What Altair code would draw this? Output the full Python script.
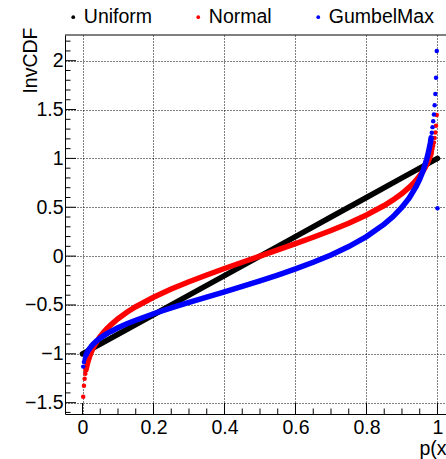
import altair as alt
import pandas as pd

FONT = "Liberation Sans"

series_names = ["Uniform", "Normal", "GumbelMax"]
series_colors = ["#000000", "#ff0000", "#0000ff"]

uniform_p = [0.0, 0.1, 0.2, 0.3, 0.4, 0.5, 0.6, 0.7, 0.8, 0.9, 1.0]
uniform_v = [-1.0, -0.8, -0.6, -0.4, -0.2, 0.0, 0.2, 0.4, 0.6, 0.8, 1.0]

normal_p = [0.002, 0.004, 0.006, 0.008, 0.010, 0.012, 0.014, 0.016, 0.018, 0.020,
            0.025, 0.030, 0.035, 0.040, 0.050, 0.060, 0.070, 0.080, 0.100, 0.125,
            0.150, 0.200, 0.250, 0.300, 0.350, 0.400, 0.450, 0.500, 0.550, 0.600,
            0.650, 0.700, 0.750, 0.800, 0.850, 0.875, 0.900, 0.920, 0.930, 0.940,
            0.950, 0.960, 0.965, 0.970, 0.975, 0.980, 0.982, 0.984, 0.986, 0.988,
            0.990, 0.992, 0.994, 0.996, 0.998]
normal_v = [-1.439, -1.326, -1.256, -1.205, -1.163, -1.129, -1.099, -1.072, -1.049, -1.027,
            -0.980, -0.940, -0.906, -0.875, -0.822, -0.777, -0.738, -0.703, -0.641, -0.575,
            -0.518, -0.421, -0.337, -0.262, -0.193, -0.127, -0.063, 0.000, 0.063, 0.127,
            0.193, 0.262, 0.337, 0.421, 0.518, 0.575, 0.641, 0.703, 0.738, 0.777,
            0.822, 0.875, 0.906, 0.940, 0.980, 1.027, 1.049, 1.072, 1.099, 1.129,
            1.163, 1.210, 1.265, 1.335, 1.445]

gumbel_p = [0.002, 0.004, 0.006, 0.008, 0.010, 0.012, 0.014, 0.016, 0.018, 0.020,
            0.025, 0.030, 0.035, 0.040, 0.050, 0.060, 0.070, 0.080, 0.100, 0.125,
            0.150, 0.200, 0.250, 0.300, 0.350, 0.400, 0.450, 0.500, 0.550, 0.600,
            0.650, 0.700, 0.750, 0.800, 0.850, 0.875, 0.900, 0.920, 0.940, 0.950,
            0.960, 0.970, 0.975, 0.980, 0.982, 0.984, 0.986, 0.988, 0.990, 0.992,
            0.994, 0.996, 0.998, 1.000]
gumbel_v = [-1.131, -1.083, -1.053, -1.030, -1.011, -0.995, -0.981, -0.968, -0.956, -0.946,
            -0.922, -0.902, -0.884, -0.868, -0.839, -0.814, -0.791, -0.771, -0.734, -0.693,
            -0.656, -0.590, -0.531, -0.474, -0.419, -0.365, -0.310, -0.253, -0.194, -0.131,
            -0.063, 0.012, 0.098, 0.200, 0.327, 0.405, 0.500, 0.594, 0.713, 0.788,
            0.879, 0.997, 1.071, 1.161, 1.210, 1.262, 1.320, 1.380, 1.450, 1.545,
            1.660, 1.825, 2.100, 0.490]

x_major = [0, 0.2, 0.4, 0.6, 0.8, 1.0]
x_minor = [0.05, 0.1, 0.15, 0.25, 0.3, 0.35, 0.45, 0.5, 0.55, 0.65, 0.7, 0.75,
           0.85, 0.9, 0.95]
y_major = [-1.5, -1, -0.5, 0, 0.5, 1, 1.5, 2]
y_minor = [-1.6, -1.4, -1.3, -1.2, -1.1, -0.9, -0.8, -0.7, -0.6, -0.4, -0.3, -0.2,
           -0.1, 0.1, 0.2, 0.3, 0.4, 0.6, 0.7, 0.8, 0.9, 1.1, 1.2, 1.3, 1.4, 1.6,
           1.7, 1.8, 1.9, 2.1, 2.2]

W, H = 381, 379
MAJ, MIN = 11, 5.5

xscale = alt.Scale(domain=[-0.0493, 1.024], nice=False, zero=False)
yscale = alt.Scale(domain=[-1.616, 2.263], nice=False, zero=False)
cscale = alt.Scale(domain=series_names, range=series_colors)

x_axis = alt.Axis(values=x_major, format="~g", grid=True, gridDash=[1, 2],
                  gridColor="#000000", gridWidth=1, ticks=False, tickSize=0,
                  domain=True, domainColor="#000000", domainWidth=1,
                  labelFont=FONT, labelFontSize=19.5, labelColor="#000000",
                  labelPadding=4, labelOverlap=False, labelFlush=False,
                  title="p(x)", titleFont=FONT, titleFontSize=19.5,
                  titleFontWeight="normal", titleColor="#000000",
                  titleAlign="left", titleBaseline="alphabetic",
                  titleX=354, titleY=40)
y_axis = alt.Axis(values=y_major, format="~g", grid=True, gridDash=[1, 2],
                  gridColor="#000000", gridWidth=1, ticks=False, tickSize=0,
                  domain=True, domainColor="#000000", domainWidth=1,
                  labelFont=FONT, labelFontSize=19.5, labelColor="#000000",
                  labelPadding=2, labelOverlap=False, labelFlush=False,
                  title="InvCDF", titleFont=FONT, titleFontSize=19.5,
                  titleFontWeight="normal", titleColor="#000000",
                  titleAngle=270, titleAlign="right", titleBaseline="alphabetic",
                  titleX=-28.3, titleY=-8)

legend = alt.Legend(title=None, orient="none", legendX=-1.5, legendY=-28,
                    direction="horizontal", columns=3, gridAlign="each",
                    columnPadding=36, symbolType="circle", symbolSize=14,
                    symbolStrokeWidth=0, symbolOpacity=1, labelFont=FONT,
                    labelFontSize=19.5, labelColor="#000000", labelOffset=0.8,
                    padding=0)


def series_df(name, ps, vs):
    return pd.DataFrame({"series": name, "p": ps, "v": vs})


frames = [series_df("Uniform", uniform_p, uniform_v),
          series_df("Normal", normal_p, normal_v),
          series_df("GumbelMax", gumbel_p, gumbel_v)]

X = alt.X("p:Q", scale=xscale, axis=x_axis)
Y = alt.Y("v:Q", scale=yscale, axis=y_axis)

layers = []
for i, (df, color) in enumerate(zip(frames, series_colors)):
    line = alt.Chart(df).mark_line(strokeWidth=5.5, color=color, strokeCap="round").encode(
        x=X, y=Y)
    if i > 0:
        line = line.transform_filter("datum.p >= 0.009 && datum.p <= 0.983")
    pts = alt.Chart(df).mark_circle(size=20, opacity=1).encode(
        x=X, y=Y,
        color=alt.Color("series:N", scale=cscale, legend=legend),
    )
    layers += [line, pts]

xt_major = alt.Chart(pd.DataFrame({"p": x_major})).mark_rule(color="#000000", strokeWidth=1).encode(
    x=X, y=alt.value(H), y2=alt.value(H - MAJ))
xt_minor = alt.Chart(pd.DataFrame({"p": x_minor})).mark_rule(color="#000000", strokeWidth=1).encode(
    x=X, y=alt.value(H), y2=alt.value(H - MIN))
yt_major = alt.Chart(pd.DataFrame({"v": y_major})).mark_rule(color="#000000", strokeWidth=1).encode(
    y=Y, x=alt.value(0), x2=alt.value(MAJ))
yt_minor = alt.Chart(pd.DataFrame({"v": y_minor})).mark_rule(color="#000000", strokeWidth=1).encode(
    y=Y, x=alt.value(0), x2=alt.value(MIN))
top_frame = alt.Chart(pd.DataFrame({"v": [2.263]})).mark_rule(color="#000000", strokeWidth=1).encode(
    y=Y, x=alt.value(0), x2=alt.value(W))

chart = alt.layer(*layers, xt_major, xt_minor, yt_major, yt_minor, top_frame).properties(
    width=W, height=H,
    autosize=alt.AutoSizeParams(type="none"),
    padding={"left": 65, "top": 35, "right": 0, "bottom": 45},
    background="#ffffff",
).configure_view(stroke=None)

chart.save("out.html", embed_options={"renderer": "svg", "actions": False})
